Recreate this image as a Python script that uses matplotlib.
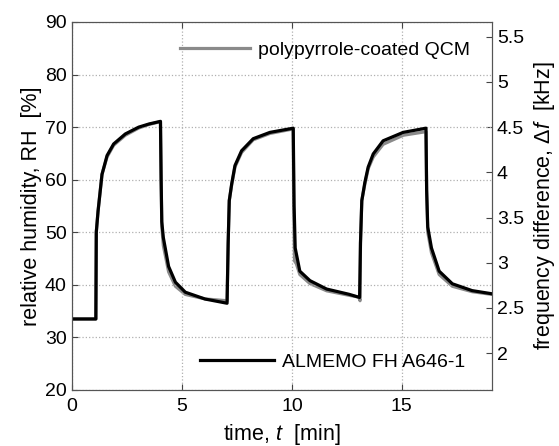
import matplotlib
matplotlib.use("Agg")
import matplotlib.pyplot as plt
from matplotlib.ticker import FormatStrFormatter

plt.rcParams['font.family'] = ['Liberation Sans', 'DejaVu Sans']
plt.rcParams['mathtext.fontset'] = 'custom'
plt.rcParams['mathtext.it'] = 'Liberation Sans:italic'
plt.rcParams['mathtext.rm'] = 'Liberation Sans'

# reference humidity sensor (left axis, RH %)
t_almemo = [0, 1.08, 1.1, 1.18, 1.36, 1.59, 1.89, 2.42, 3.03, 3.5, 4.02, 4.05, 4.08,
            4.15, 4.39, 4.7, 5.15, 6.05, 7.05, 7.1, 7.15, 7.26, 7.41, 7.71, 8.24, 9.0,
            10.06, 10.1, 10.15, 10.36, 10.82, 11.58, 12.6, 13.08, 13.12, 13.18, 13.32,
            13.47, 13.7, 14.15, 15.06, 16.1, 16.13, 16.18, 16.35, 16.7, 17.3, 18.2, 19.1]
rh_almemo = [33.5, 33.5, 50, 54, 61, 64.6, 66.8, 68.7, 70, 70.6, 71.1, 60, 52,
             49, 43.5, 40.5, 38.6, 37.3, 36.5, 48, 56, 59.2, 62.7, 65.5, 67.8, 69,
             69.8, 55, 47, 42.6, 40.8, 39.2, 38.2, 37.6, 48, 56, 59.5,
             62.4, 64.9, 67.4, 69, 69.8, 58, 51, 47, 42.6, 40.2, 38.9, 38.3]

# QCM frequency difference (right axis, kHz)
t_qcm = [0, 1.08, 1.1, 1.18, 1.36, 1.59, 1.89, 2.42, 3.03, 3.5, 4.02, 4.05, 4.08,
         4.15, 4.39, 4.7, 5.15, 6.05, 7.05, 7.1, 7.15, 7.26, 7.41, 7.71, 8.24, 9.0,
         10.06, 10.08, 10.12, 10.2, 10.36, 10.82, 11.58, 12.6, 13.05, 13.1, 13.12,
         13.18, 13.32, 13.47, 13.7, 14.15, 15.06, 16.1, 16.13, 16.18, 16.35, 16.7,
         17.3, 18.2, 19.1]
df_qcm = [2.38, 2.38, 3.34, 3.57, 3.98, 4.17, 4.30, 4.41, 4.49, 4.53, 4.56, 3.92, 3.40,
          3.19, 2.90, 2.74, 2.65, 2.60, 2.58, 3.22, 3.69, 3.86, 4.06, 4.22, 4.36, 4.43,
          4.48, 3.63, 3.02, 2.99, 2.87, 2.77, 2.69, 2.64, 2.62, 2.58, 3.22,
          3.69, 3.87, 4.04, 4.17, 4.31, 4.41, 4.45, 3.80, 3.34, 3.11, 2.87,
          2.74, 2.68, 2.65]

x_ticks = [0, 5, 10, 15]
rh_ticks = [20, 30, 40, 50, 60, 70, 80, 90]
f_ticks = [2, 2.5, 3, 3.5, 4, 4.5, 5, 5.5]

fig = plt.figure(figsize=(5.59, 4.46), dpi=100)
ax = fig.add_axes([0.129, 0.1256, 0.751, 0.8251])
ax2 = ax.twinx()
ax.set_zorder(ax2.get_zorder() + 1)
ax.patch.set_visible(False)

l1, = ax.plot(t_almemo, rh_almemo, color='black', lw=2.3, solid_joinstyle='round')
l2, = ax2.plot(t_qcm, df_qcm, color='#8a8a8a', lw=2.3, solid_joinstyle='round')

ax.set_xlim(0, 19.1)
ax.set_ylim(20, 90)
ax2.set_ylim(1.593, 5.663)
ax.set_xticks(x_ticks)
ax.set_yticks(rh_ticks)
ax2.set_yticks(f_ticks)
ax2.yaxis.set_major_formatter(FormatStrFormatter('%g'))

ax.grid(True, color='#b0b0b0', linestyle=':', linewidth=0.9)
for a in (ax, ax2):
    a.tick_params(direction='in', labelsize=14, length=4, color='#444444')
    for s in a.spines.values():
        s.set_color('#555555')
ax.tick_params(top=True)
ax.tick_params(axis='x', pad=6)
ax.tick_params(axis='y', pad=4)

ax.set_xlabel('time, $t$  [min]', fontsize=15.5, labelpad=5)
ax.set_ylabel('relative humidity, RH  [%]', fontsize=15.5, labelpad=2)
ax2.set_ylabel('frequency difference, $\\Delta f$  [kHz]', fontsize=15.5, labelpad=6)

leg1 = ax.legend([l2], ['polypyrrole-coated QCM'], loc='center left',
                 bbox_to_anchor=(0.257, 0.924), frameon=False, fontsize=14,
                 handlelength=3.6, handletextpad=0.4, borderpad=0, borderaxespad=0)
ax.add_artist(leg1)
ax.legend([l1], ['ALMEMO FH A646-1'], loc='center left',
          bbox_to_anchor=(0.305, 0.076), frameon=False, fontsize=14,
          handlelength=3.8, handletextpad=0.4, borderpad=0, borderaxespad=0)

fig.savefig('out.png', dpi=100, facecolor='white')
